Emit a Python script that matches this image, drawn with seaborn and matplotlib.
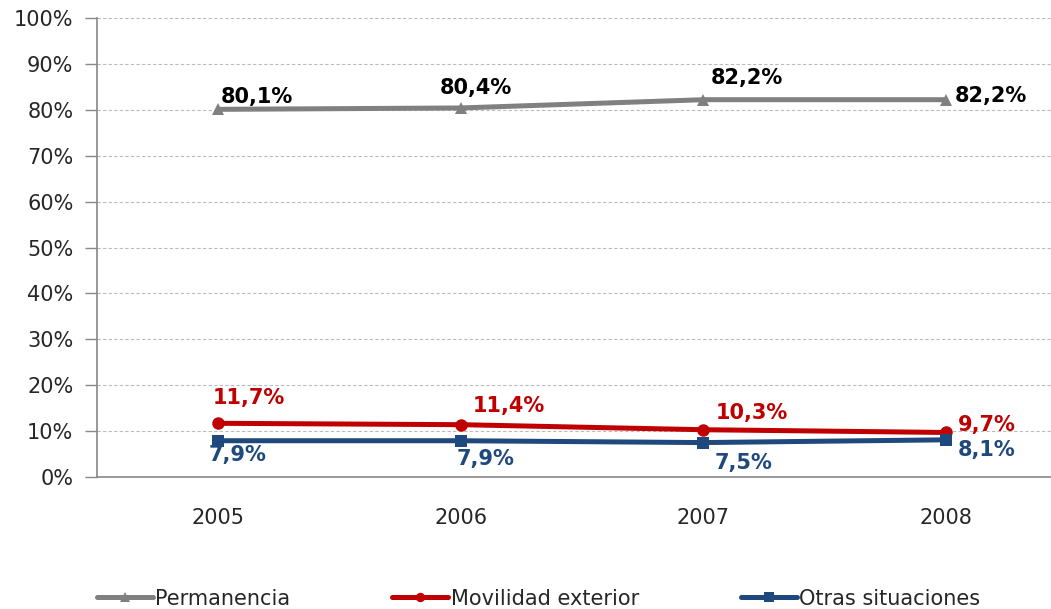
import matplotlib
matplotlib.use("Agg")
import matplotlib.pyplot as plt
import seaborn as sns
import pandas as pd
from matplotlib.ticker import FuncFormatter, MultipleLocator

years = [2005, 2006, 2007, 2008]
series_names = ["Permanencia", "Movilidad exterior", "Otras situaciones"]
permanencia = [80.1, 80.4, 82.2, 82.2]
movilidad = [11.7, 11.4, 10.3, 9.7]
otras = [7.9, 7.9, 7.5, 8.1]

colors = {"Permanencia": "#808080", "Movilidad exterior": "#C00000", "Otras situaciones": "#1F497D"}
markers = {"Permanencia": "^", "Movilidad exterior": "o", "Otras situaciones": "s"}

# label offsets (pixels) per series/year, roughly as placed in the original
label_offsets = {
    "Permanencia": [(2, 12, "left"), (15, 20, "center"), (7, 22, "left"), (9, 4, "left")],
    "Movilidad exterior": [(-6, 25, "left"), (12, 19, "left"), (12, 17, "left"), (12, 7, "left")],
    "Otras situaciones": [(-10, -14, "left"), (-4, -18, "left"), (11, -20, "left"), (12, -10, "left")],
}

df = pd.DataFrame({
    "year": years * 3,
    "value": permanencia + movilidad + otras,
    "serie": [s for s in series_names for _ in years],
})

sns.set_style("white")
plt.rcParams["font.family"] = ["DejaVu Sans"]

fig = plt.figure(figsize=(10.51, 6.09), dpi=100)
ax = fig.add_axes([97 / 1051, 132 / 609, 970 / 1051, 459 / 609])

sns.lineplot(data=df, x="year", y="value", hue="serie", style="serie",
             palette=colors, markers=markers, dashes=False, linewidth=3.6,
             markersize=9, markeredgewidth=0, ax=ax, legend=True)

for name in series_names:
    sub = df[df["serie"] == name]
    for (x, v), (dx, dy, ha) in zip(zip(sub["year"], sub["value"]), label_offsets[name]):
        txt_color = "black" if name == "Permanencia" else colors[name]
        ax.annotate(f"{v:.1f}%".replace(".", ","), (x, v), xytext=(dx, dy),
                    textcoords="offset pixels", ha=ha, va="center",
                    fontsize=15, fontweight="bold", color=txt_color)

ax.set_xlim(2004.5, 2008.5)
ax.set_ylim(0, 100)
ax.yaxis.set_major_locator(MultipleLocator(10))
ax.yaxis.set_major_formatter(FuncFormatter(lambda v, p: f"{v:.0f}%"))
ax.set_xticks(years)
ax.set_xticklabels([str(y) for y in years])
ax.set_xticks([2004.5 + i for i in range(5)], minor=True)
ax.tick_params(axis="x", which="major", length=0, pad=22, labelsize=15, colors="#262626")
ax.tick_params(axis="x", which="minor", length=7, width=1, color="#888888", direction="out")
ax.tick_params(axis="y", length=9, width=1, color="#888888", direction="out",
               labelsize=15, colors="#262626", pad=8, left=True)
ax.set_xlabel("")
ax.set_ylabel("")

ax.grid(axis="y", color="#BBBBBB", linestyle=(0, (3, 2)), linewidth=0.8)
ax.set_axisbelow(True)
for side in ["top", "right"]:
    ax.spines[side].set_visible(False)
for side in ["left", "bottom"]:
    ax.spines[side].set_color("#888888")
    ax.spines[side].set_linewidth(1.2)

handles, labels = ax.get_legend_handles_labels()
ax.legend(handles, labels, loc="center", bbox_to_anchor=((538.5 - 97) / 970, -0.265),
          bbox_transform=ax.transAxes, ncol=3, frameon=False, fontsize=15,
          handlelength=2.7, handletextpad=0.1, columnspacing=4.9, markerscale=0.75,
          labelcolor="#262626")

fig.savefig("out.png", dpi=100)
